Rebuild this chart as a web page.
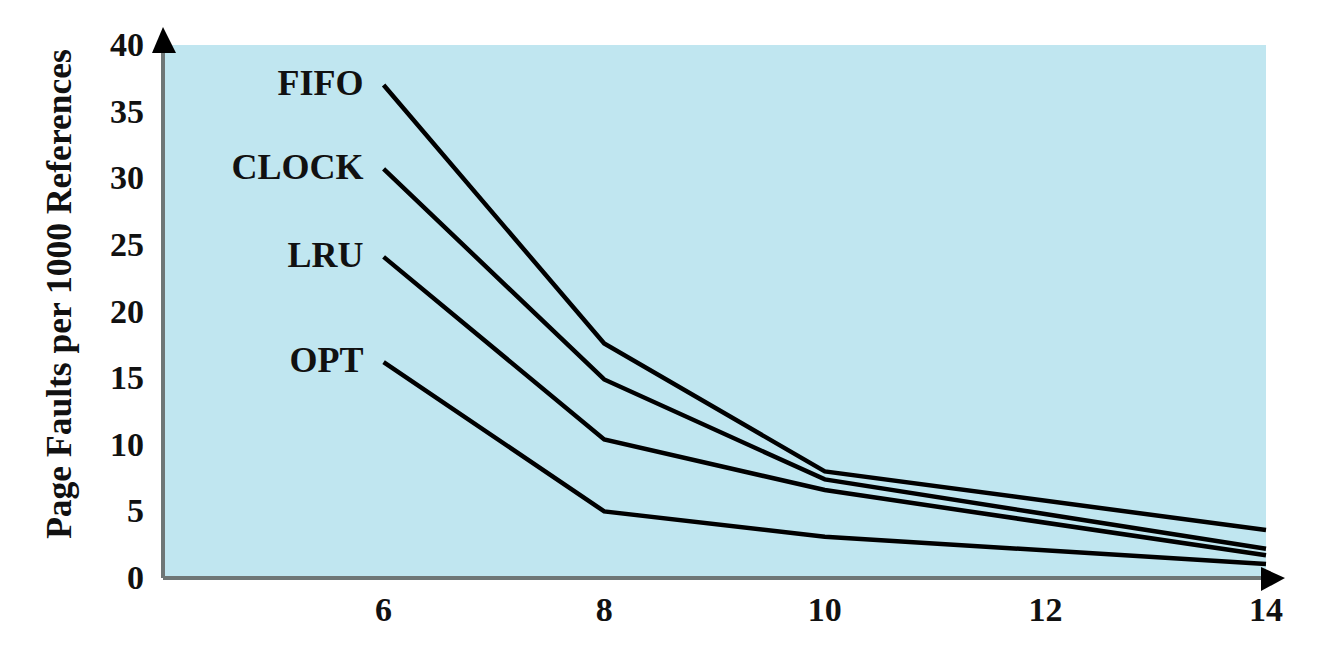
<!DOCTYPE html>
<html>
<head>
<meta charset="utf-8">
<script src="https://cdn.jsdelivr.net/npm/d3@7"></script>
<style>
  html, body { margin: 0; padding: 0; background: #fff; }
  svg { display: block; }
  text { font-family: 'Liberation Serif', 'Times New Roman', serif; font-weight: bold; fill: #111; }
</style>
</head>
<body>
<svg></svg>
<script>
'use strict'

// frame sizes (number of page frames allocated)
const frames = [6, 8, 10, 14]
const xTicks = [6, 8, 10, 12, 14]
const yTicks = [0, 5, 10, 15, 20, 25, 30, 35, 40]

// page faults per 1000 references
const fifo = [37, 17.6, 8, 3.6]
const clock = [30.7, 14.9, 7.4, 2.2]
const lru = [24.1, 10.4, 6.6, 1.7]
const opt = [16.2, 5, 3.1, 1.05]

const seriesNames = ['FIFO', 'CLOCK', 'LRU', 'OPT']
const seriesValues = [fifo, clock, lru, opt]

const width = 1318,
  height = 648

const margin = { top: 45, right: 52, bottom: 70, left: 163 }

const svg = d3
  .select('svg')
  .attr('width', width)
  .attr('height', height)

const xScale = d3
  .scaleLinear()
  .domain([4, 14])
  .range([margin.left, width - margin.right])

const yScale = d3
  .scaleLinear()
  .domain([0, 40])
  .range([height - margin.bottom, margin.top])

// plot background
svg
  .append('rect')
  .attr('x', xScale(4))
  .attr('y', yScale(40))
  .attr('width', xScale(14) - xScale(4))
  .attr('height', yScale(0) - yScale(40))
  .attr('fill', '#c0e6f0')

// axes lines
svg
  .append('line')
  .attr('x1', xScale(4))
  .attr('x2', xScale(4))
  .attr('y1', yScale(0))
  .attr('y2', yScale(40) - 6)
  .attr('stroke', '#6e7676')
  .attr('stroke-width', 4)

svg
  .append('line')
  .attr('x1', xScale(4))
  .attr('x2', xScale(14))
  .attr('y1', yScale(0))
  .attr('y2', yScale(0))
  .attr('stroke', '#6e7676')
  .attr('stroke-width', 4)

// arrow heads
const yTop = yScale(40)
svg
  .append('path')
  .attr('d', 'M' + (xScale(4) - 11) + ',' + (yTop + 8) + 'L' + xScale(4) + ',' + (yTop - 18) + 'L' + (xScale(4) + 13) + ',' + (yTop + 8) + 'Z')
  .attr('fill', '#000')

const xEnd = xScale(14)
svg
  .append('path')
  .attr('d', 'M' + (xEnd - 5) + ',' + (yScale(0) - 11) + 'L' + (xEnd + 19) + ',' + yScale(0) + 'L' + (xEnd - 5) + ',' + (yScale(0) + 13) + 'Z')
  .attr('fill', '#000')

// tick labels
svg
  .append('g')
  .selectAll('text')
  .data(yTicks)
  .enter()
  .append('text')
  .attr('x', 144)
  .attr('y', d => yScale(d) + 11)
  .attr('text-anchor', 'end')
  .style('font-size', '34px')
  .text(d => d)

svg
  .append('g')
  .selectAll('text')
  .data(xTicks)
  .enter()
  .append('text')
  .attr('x', d => xScale(d))
  .attr('y', 621)
  .attr('text-anchor', 'middle')
  .style('font-size', '34px')
  .text(d => d)

// axis title
svg
  .append('text')
  .attr('transform', 'translate(71,' + 294 + ') rotate(-90)')
  .attr('text-anchor', 'middle')
  .style('font-size', '35.5px')
  .text('Page Faults per 1000 References')

// series lines
const line = d3
  .line()
  .x((d, i) => xScale(frames[i]))
  .y(d => yScale(d))

svg
  .append('g')
  .selectAll('path')
  .data(seriesValues)
  .enter()
  .append('path')
  .attr('d', d => line(d))
  .attr('fill', 'none')
  .attr('stroke', '#000')
  .attr('stroke-width', 4.5)
  .attr('stroke-linejoin', 'miter')

// series labels at the start of each line
svg
  .append('g')
  .selectAll('text')
  .data(seriesNames)
  .enter()
  .append('text')
  .attr('x', xScale(6) - 20)
  .attr('y', (d, i) => yScale(seriesValues[i][0]) + 10)
  .attr('text-anchor', 'end')
  .style('font-size', '36px')
  .text(d => d)
</script>
</body>
</html>
